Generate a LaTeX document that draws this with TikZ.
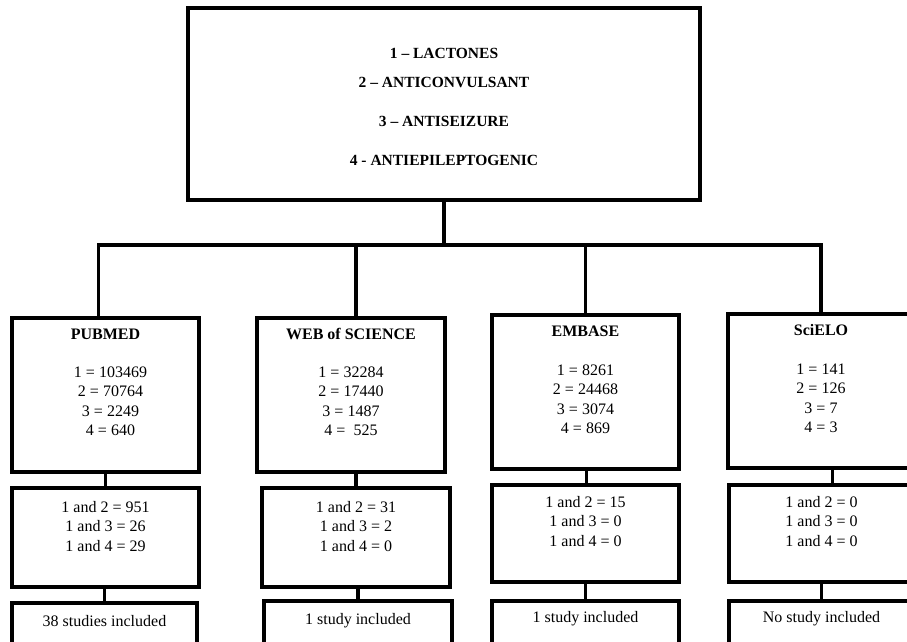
\documentclass[tikz,border=0pt]{standalone}
\usepackage{fontspec}
\setmainfont{Liberation Serif}
\usetikzlibrary{positioning,calc}

\tikzset{
  dbbox/.style={draw, line width=3.3pt, inner sep=0pt},
  numtxt/.style={font=\fontsize{16}{19.3}\selectfont, align=center, inner sep=0pt},
  dbname/.style={font=\fontsize{16}{19}\selectfont\bfseries, inner sep=0pt},
  termtxt/.style={font=\fontsize{15.5}{19}\selectfont\bfseries, inner sep=0pt},
  link/.style={line width=3.3pt}
}

\begin{document}
\begin{tikzpicture}[x=1pt, y=-1pt]
\useasboundingbox (0,0) rectangle (907,642);
% search terms
\node[dbbox, minimum width=512pt, minimum height=192pt] (terms) at (444,104) {};
\node[termtxt] (t1) at ([yshift=-47pt]terms.north) {1 -- LACTONES};
\node[termtxt] (t2) at ([yshift=-76pt]terms.north) {2 -- ANTICONVULSANT};
\node[termtxt] (t3) at ([yshift=-115pt]terms.north) {3 -- ANTISEIZURE};
\node[termtxt] (t4) at ([yshift=-154pt]terms.north) {4 - ANTIEPILEPTOGENIC};

% databases
\node[dbbox, minimum width=187pt, minimum height=154pt] (pub1) at (105.5,395) {};
\node[dbbox, minimum width=188pt, minimum height=154pt] (web1) at (351,395) {};
\node[dbbox, minimum width=187pt, minimum height=154pt] (emb1) at (585.5,392) {};
\node[dbbox, minimum width=186pt, minimum height=154pt] (sci1) at (821,391) {};

\node[dbname] (pubn) at ([yshift=-18pt]pub1.north) {PUBMED};
\node[dbname] (webn) at ([yshift=-18pt]web1.north) {WEB of SCIENCE};
\node[dbname] (embn) at ([yshift=-18pt]emb1.north) {EMBASE};
\node[dbname] (scin) at ([yshift=-18pt]sci1.north) {SciELO};

\node[numtxt] (pubc) at ([xshift=5pt, yshift=-85pt]pub1.north) {1 = 103469\\2 = 70764\\3 = 2249\\4 = 640};
\node[numtxt] (webc) at ([yshift=-85pt]web1.north) {1 = 32284\\2 = 17440\\3 = 1487\\4 = \ 525};
\node[numtxt] (embc) at ([yshift=-86pt]emb1.north) {1 = 8261\\2 = 24468\\3 = 3074\\4 = 869};
\node[numtxt] (scic) at ([yshift=-86pt]sci1.north) {1 = 141\\2 = 126\\3 = 7\\4 = 3};

% combinations
\node[dbbox, minimum width=187pt, minimum height=99pt] (pub2) at (105.5,537.5) {};
\node[dbbox, minimum width=188pt, minimum height=99pt] (web2) at (356,537.5) {};
\node[dbbox, minimum width=187pt, minimum height=97pt] (emb2) at (585.5,533.5) {};
\node[dbbox, minimum width=185pt, minimum height=97pt] (sci2) at (821.5,533.5) {};

\node[numtxt] (pubm) at ([yshift=-40pt]pub2.north) {1 and 2 = 951\\1 and 3 = 26\\1 and 4 = 29};
\node[numtxt] (webm) at ([yshift=-40pt]web2.north) {1 and 2 = 31\\1 and 3 = 2\\1 and 4 = 0};
\node[numtxt] (embm) at ([yshift=-38pt]emb2.north) {1 and 2 = 15\\1 and 3 = 0\\1 and 4 = 0};
\node[numtxt] (scim) at ([yshift=-38pt]sci2.north) {1 and 2 = 0\\1 and 3 = 0\\1 and 4 = 0};

% results
\node[dbbox, minimum width=185pt, minimum height=54pt] (pub3) at (104.5,630) {};
\node[dbbox, minimum width=188pt, minimum height=56pt] (web3) at (358,629) {};
\node[dbbox, minimum width=187pt, minimum height=56pt] (emb3) at (585.5,629) {};
\node[dbbox, minimum width=185pt, minimum height=56pt] (sci3) at (821.5,629) {};

\node[numtxt] (pubr) at ([yshift=-20pt]pub3.north) {38 studies included};
\node[numtxt] (webr) at ([yshift=-21pt]web3.north) {1 study included};
\node[numtxt] (embr) at ([yshift=-19pt]emb3.north) {1 study included};
\node[numtxt] (scir) at ([yshift=-19pt]sci3.north) {No study included};

% connectors
\coordinate (bus) at (444,245);
\draw[link] (terms.south) -- (bus);
\draw[link] ([xshift=-7pt]pub1.north) |- (bus) -| (sci1.north);
\draw[link] ([xshift=5pt]web1.north) -- ([xshift=5pt]web1.north |- bus);
\draw[link] (emb1.north) -- (emb1.north |- bus);

\draw[link] (pub2.north) -- (pub2.north |- pub1.south);
\draw[link] (web2.north) -- (web2.north |- web1.south);
\draw[link] ([xshift=1pt]emb2.north) -- ([xshift=1pt]emb2.north |- emb1.south);
\draw[link] ([xshift=11pt]sci2.north) -- ([xshift=11pt]sci2.north |- sci1.south);

\draw[link] (pub3.north) -- (pub3.north |- pub2.south);
\draw[link] (web3.north) -- (web3.north |- web2.south);
\draw[link] (emb3.north) -- (emb3.north |- emb2.south);
\draw[link] (sci3.north) -- (sci3.north |- sci2.south);
\end{tikzpicture}
\end{document}
